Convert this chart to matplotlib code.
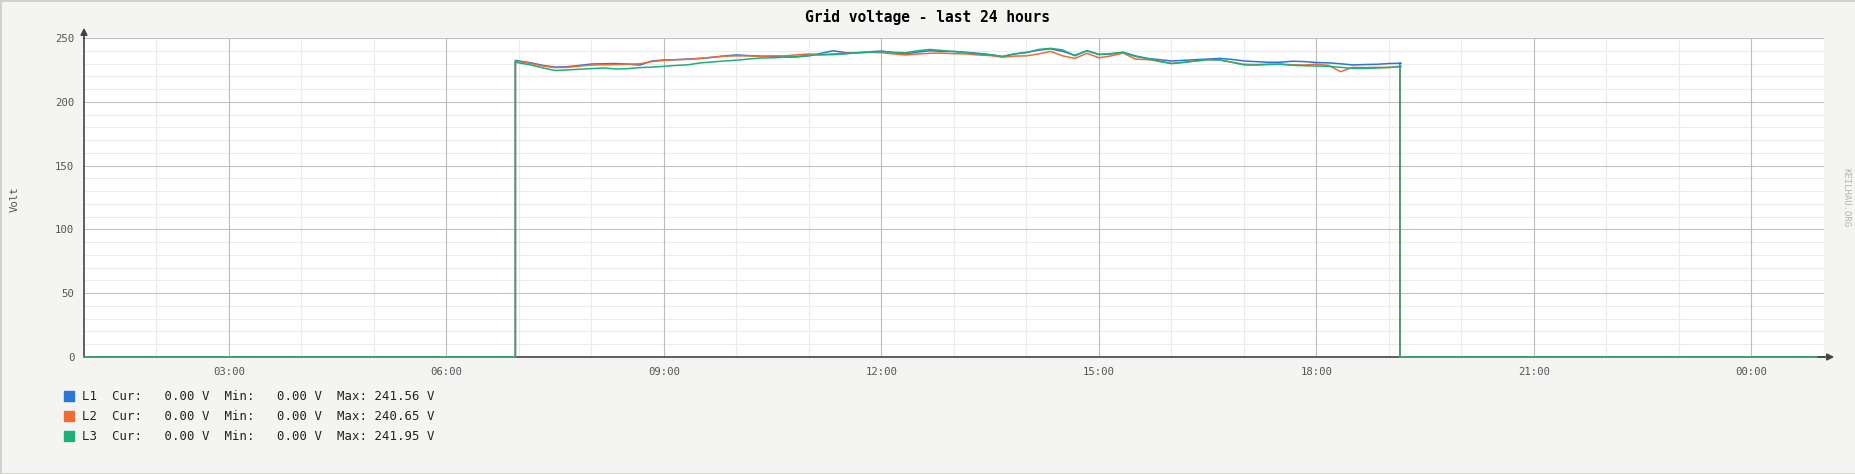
import matplotlib
matplotlib.use("Agg")
import matplotlib.pyplot as plt
from matplotlib.patches import Rectangle

# время в часах (10-минутный шаг), напряжение в вольтах
t_on = 6.95   # включение
t_off = 19.15  # выключение
times = [6.95] + [7 + i / 6 for i in range(74)]

L1 = [232.5, 232.0, 230.5, 228.5, 227.2, 227.5, 228.5, 229.6, 229.8, 230.0, 229.5, 228.8,
      232.0, 232.8, 233.0, 233.5, 234.0, 234.8, 236.0, 236.7, 236.2, 235.8, 235.5, 234.9,
      235.2, 236.0, 238.0, 240.0, 238.5, 238.5, 239.2, 239.8, 238.5, 237.5, 239.0, 240.0,
      239.5, 239.5, 238.8, 238.0, 237.0, 235.5, 237.5, 238.8, 240.5, 241.5, 239.5, 236.5,
      240.0, 237.2, 237.5, 238.8, 236.0, 234.0, 233.0, 232.0, 232.5, 233.0, 233.5, 234.0,
      233.2, 232.0, 231.5, 231.0, 231.0, 231.8, 231.5, 230.8, 230.5, 229.8, 228.9, 229.2,
      229.4, 230.0, 230.2]
L2 = [231.8, 231.5, 230.0, 228.0, 226.8, 227.0, 228.0, 228.8, 229.0, 229.2, 229.5, 229.8,
      231.5, 232.5, 233.0, 233.2, 234.0, 235.0, 235.8, 236.0, 236.0, 235.5, 236.0, 236.0,
      236.8, 237.5, 237.0, 237.5, 238.0, 238.3, 238.8, 238.5, 237.5, 236.7, 237.5, 238.0,
      238.2, 237.7, 237.5, 236.7, 236.2, 235.0, 235.8, 236.0, 237.5, 239.5, 236.0, 234.0,
      238.0, 234.5, 236.0, 238.2, 233.5, 233.0, 232.0, 230.0, 231.0, 232.0, 233.0, 232.8,
      231.0, 229.4, 229.2, 229.5, 229.6, 229.0, 228.8, 229.5, 228.5, 223.6, 227.0, 226.8,
      227.0, 226.8, 228.0]
L3 = [231.0, 230.5, 228.8, 226.5, 224.5, 225.0, 225.5, 226.0, 226.5, 225.7, 226.0, 226.8,
      227.2, 227.8, 228.5, 229.0, 230.5, 231.2, 232.0, 232.6, 233.5, 234.3, 234.5, 235.0,
      235.5, 236.5, 236.8, 237.0, 237.5, 238.5, 238.8, 239.3, 238.8, 238.5, 240.0, 241.0,
      240.2, 239.3, 238.5, 237.5, 236.8, 235.5, 237.5, 238.5, 241.0, 241.9, 240.6, 236.0,
      240.0, 237.0, 237.8, 238.8, 235.5, 234.0, 231.5, 230.0, 230.8, 232.0, 233.0, 232.8,
      231.0, 228.9, 228.8, 229.2, 229.4, 228.6, 228.3, 228.0, 227.8, 227.0, 226.2, 226.2,
      226.5, 227.0, 227.5]

names = ["L1", "L2", "L3"]
colors = ["#2a77d8", "#f06a38", "#1cb07c"]
cur = [0.00, 0.00, 0.00]
vmin = [0.00, 0.00, 0.00]
vmax = [241.56, 240.65, 241.95]

xticks = [3, 6, 9, 12, 15, 18, 21, 24]
xlabels = ["03:00", "06:00", "09:00", "12:00", "15:00", "18:00", "21:00", "00:00"]

W, H = 1856, 474
fig = plt.figure(figsize=(W / 100, H / 100), dpi=100, facecolor="#f4f4f2")
ax = fig.add_axes([84 / W, (H - 357) / H, (1824 - 84) / W, (357 - 38) / H])
ax.set_facecolor("white")

# сетка
for v in range(10, 251, 10):
    c = "#c4c4c4" if v % 50 == 0 else "#ececec"
    ax.axhline(v, color=c, lw=0.8, zorder=1 if v % 50 else 1.5)
for h in range(2, 25):
    c = "#bcbcbc" if h % 3 == 0 else "#ececec"
    ax.axvline(h, color=c, lw=0.8, zorder=1 if h % 3 else 1.5)

# линии
for name, vals, col in zip(names, [L1, L2, L3], colors):
    x = [1.0, t_on] + times + [t_off, t_off, 25.0]
    y = [0, 0] + vals + [vals[-1], 0, 0]
    ax.plot(x, y, color=col, lw=1.1, zorder=3, clip_on=False)

ax.set_xlim(1, 25)
ax.set_ylim(0, 250)
ax.set_xticks(xticks)
ax.set_xticklabels(xlabels)
ax.set_yticks([0, 50, 100, 150, 200, 250])
ax.tick_params(length=0, labelsize=7.7, labelcolor="#555555", pad=7)
for lab in ax.get_xticklabels() + ax.get_yticklabels():
    lab.set_fontfamily("DejaVu Sans Mono")
for s in ["top", "right"]:
    ax.spines[s].set_visible(False)
for s in ["left", "bottom"]:
    ax.spines[s].set_color("#444444")
    ax.spines[s].set_linewidth(1.2)
    ax.spines[s].set_zorder(2)

# стрелки осей
ax.annotate("", xy=(0, 1 + 13 / 319), xytext=(0, 0.99), xycoords="axes fraction",
            arrowprops=dict(arrowstyle="-|>", color="#444444", lw=1.2, mutation_scale=10))
ax.annotate("", xy=(1 + 13 / 1740, 0), xytext=(0.995, 0), xycoords="axes fraction",
            arrowprops=dict(arrowstyle="-|>", color="#444444", lw=1.2, mutation_scale=10))

fig.text(0.5, 1 - 17 / H, "Grid voltage - last 24 hours", ha="center", va="center",
         fontfamily="DejaVu Sans Mono", fontweight="bold", fontsize=10.5, color="black")
fig.text(15 / W, 1 - 199 / H, "Volt", rotation=90, ha="center", va="center",
         fontfamily="DejaVu Sans Mono", fontsize=7.7, color="#555555")
fig.text(1846 / W, 1 - 198 / H, "KEILHAU.ORG", rotation=270, ha="center", va="center",
         fontfamily="DejaVu Sans Mono", fontsize=6.5, color="#b4b4b4")

# легенда
rows = [396, 416, 436]
for i in range(3):
    yy = 1 - rows[i] / H
    fig.patches.append(Rectangle((64 / W, yy - 5 / H), 10 / W, 10 / H,
                                 transform=fig.transFigure, color=colors[i]))
    txt = "%s  Cur: %6.2f V  Min: %6.2f V  Max: %6.2f V" % (names[i], cur[i], vmin[i], vmax[i])
    fig.text(82 / W, yy, txt, ha="left", va="center",
             fontfamily="DejaVu Sans Mono", fontsize=8.9, color="#222222")

fig.patches.append(Rectangle((0, 0), 1, 1, transform=fig.transFigure, fill=False,
                             edgecolor="#d0d0c8", lw=2))

fig.savefig("out.png", dpi=100, facecolor=fig.get_facecolor())
